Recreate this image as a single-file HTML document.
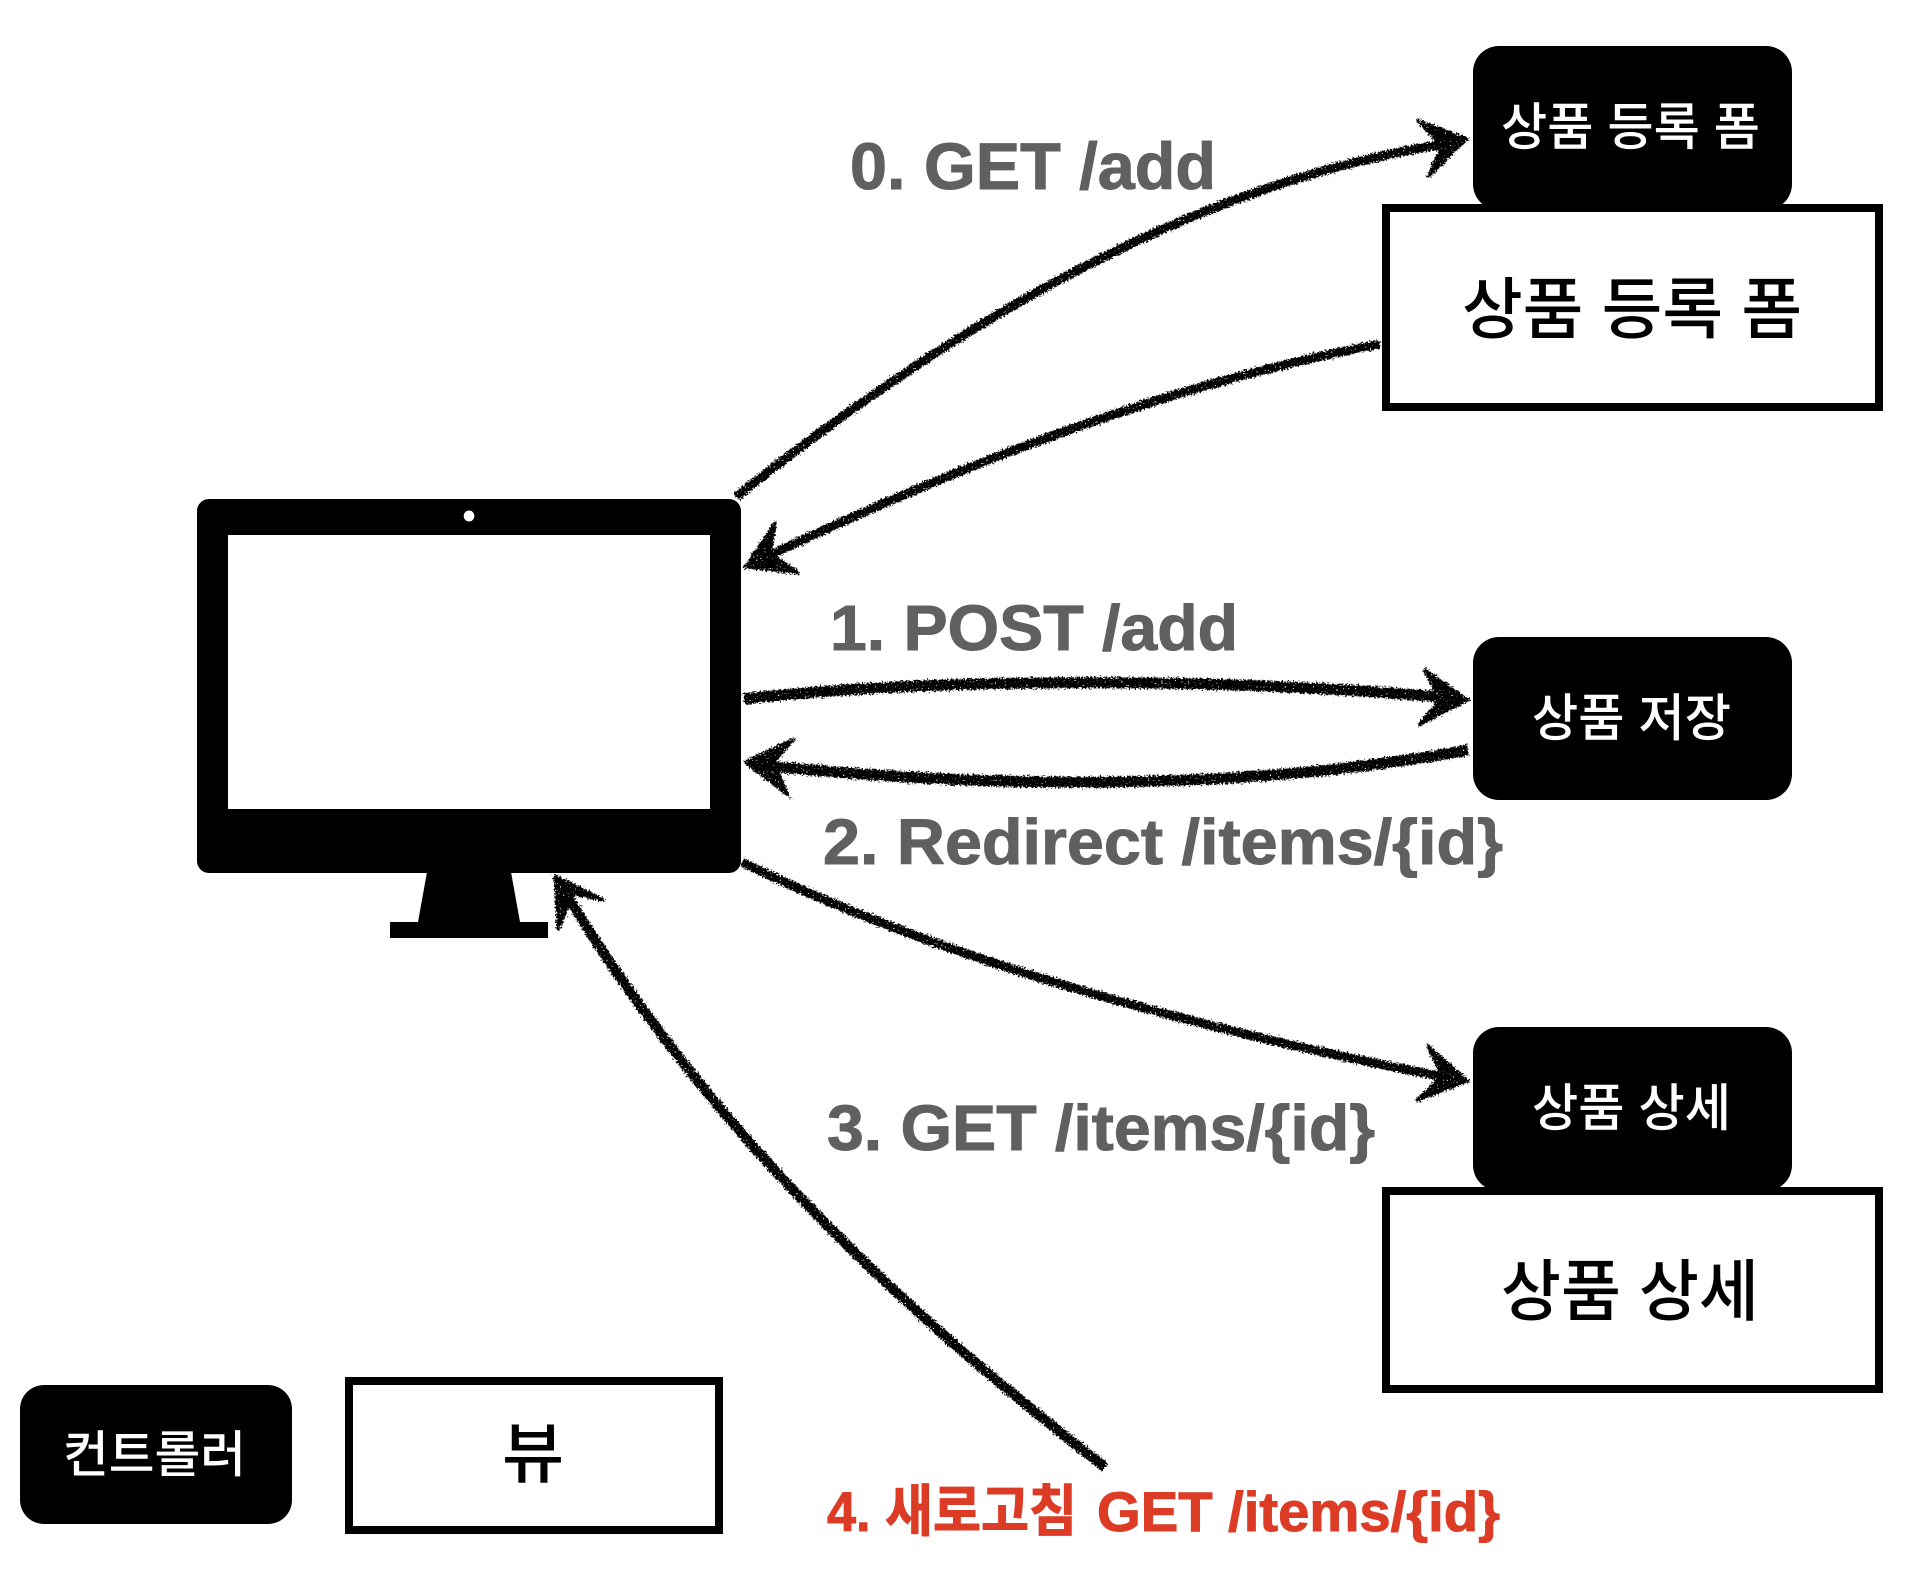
<!DOCTYPE html>
<html lang="ko">
<head>
<meta charset="utf-8">
<title>PRG diagram</title>
<style>
html,body{margin:0;padding:0;background:#fff;width:1928px;height:1596px;overflow:hidden}
svg{display:block}
.lab{font-family:"Liberation Sans","Noto Sans CJK KR",sans-serif;font-weight:700;fill:#606060;stroke:#606060;stroke-width:1}
.red{fill:#dc3c26;stroke:#dc3c26}
.ko{font-family:"Liberation Sans","Noto Sans CJK KR",sans-serif;font-weight:500}
.w{fill:#fff}
.line{fill:none;stroke:#000;stroke-linecap:butt}
.head{fill:#000;stroke:#000;stroke-width:3;stroke-linejoin:miter}
</style>
</head>
<body>
<svg width="1928" height="1596" viewBox="0 0 1928 1596" xmlns="http://www.w3.org/2000/svg">
<defs>
<filter id="rough" x="0" y="0" width="1928" height="1596" filterUnits="userSpaceOnUse" color-interpolation-filters="sRGB">
<feTurbulence type="fractalNoise" baseFrequency="0.55" numOctaves="2" seed="4" result="n"/>
<feDisplacementMap in="SourceGraphic" in2="n" scale="7" xChannelSelector="R" yChannelSelector="G" result="d"/>
<feTurbulence type="fractalNoise" baseFrequency="0.6" numOctaves="1" seed="11" result="n2"/>
<feColorMatrix in="n2" type="matrix" values="0 0 0 0 0  0 0 0 0 0  0 0 0 0 0  14 0 0 0 -9.4" result="sp"/>
<feComposite in="d" in2="sp" operator="out"/>
</filter>
</defs>
<rect width="1928" height="1596" fill="#fff"/>

<!-- monitor -->
<rect x="197" y="499" width="544" height="374" rx="12" fill="#000"/>
<rect x="228" y="535" width="482" height="274" fill="#fff"/>
<ellipse cx="469" cy="516" rx="5.3" ry="5.5" fill="#fff"/>
<polygon points="427,872 511,872 520,922 548,922 548,938 390,938 390,922 418,922" fill="#000"/>

<!-- top group -->
<rect x="1473" y="46" width="319" height="164" rx="26" fill="#000"/>
<rect x="1386" y="208" width="493" height="199" fill="#fff" stroke="#000" stroke-width="8"/>
<text class="ko w" x="1501" y="145" font-size="51" textLength="259" lengthAdjust="spacingAndGlyphs">상품 등록 폼</text>
<text class="ko" x="1462" y="333" font-size="67" textLength="340" lengthAdjust="spacingAndGlyphs">상품 등록 폼</text>

<!-- middle -->
<rect x="1473" y="637" width="319" height="163" rx="26" fill="#000"/>
<text class="ko w" x="1532" y="736" font-size="51" textLength="199" lengthAdjust="spacingAndGlyphs">상품 저장</text>

<!-- lower group -->
<rect x="1473" y="1027" width="319" height="164" rx="26" fill="#000"/>
<rect x="1386" y="1191" width="493" height="198" fill="#fff" stroke="#000" stroke-width="8"/>
<text class="ko w" x="1532" y="1126" font-size="51" textLength="199" lengthAdjust="spacingAndGlyphs">상품 상세</text>
<text class="ko" x="1501" y="1315" font-size="67" textLength="258" lengthAdjust="spacingAndGlyphs">상품 상세</text>

<!-- legend -->
<rect x="20" y="1385" width="272" height="139" rx="24" fill="#000"/>
<text class="ko w" x="63" y="1472" font-size="50" textLength="183" lengthAdjust="spacingAndGlyphs">컨트롤러</text>
<rect x="349" y="1381" width="370" height="149" fill="#fff" stroke="#000" stroke-width="8"/>
<text class="ko" x="502" y="1477" font-size="66" textLength="62" lengthAdjust="spacingAndGlyphs">뷰</text>

<!-- labels -->
<text class="lab" x="850" y="189" font-size="66" textLength="366" lengthAdjust="spacingAndGlyphs">0. GET /add</text>
<text class="lab" x="830" y="650" font-size="64" textLength="408" lengthAdjust="spacingAndGlyphs">1. POST /add</text>
<text class="lab" x="823" y="864" font-size="64" textLength="680" lengthAdjust="spacingAndGlyphs">2. Redirect /items/{id}</text>
<text class="lab" x="827" y="1150" font-size="64" textLength="548" lengthAdjust="spacingAndGlyphs">3. GET /items/{id}</text>
<text class="lab red" x="827" y="1531" font-size="56" textLength="250" lengthAdjust="spacingAndGlyphs">4. 새로고침</text>
<text class="lab red" x="1097" y="1531" font-size="56" textLength="403" lengthAdjust="spacingAndGlyphs">GET /items/{id}</text>

<!-- sketch arrows -->
<g filter="url(#rough)">
<path class="line" stroke-width="9" d="M736 497 C940 335,1180 185,1450 143"/>
<polygon class="head" points="1417,120 1467,139 1428,177 1442,146"/>

<path class="line" stroke-width="9" d="M1380 344 C1190 380,990 450,760 560"/>
<polygon class="head" points="776,522 745,567 799,573 770,553"/>

<path class="line" stroke-width="11" d="M744 699 C900 680,1200 675,1450 698"/>
<polygon class="head" points="1424,669 1468,700 1419,725 1440,700"/>

<path class="line" stroke-width="11" d="M1468 750 C1250 790,1000 790,760 765"/>
<polygon class="head" points="794,739 745,762 788,795 774,762"/>

<path class="line" stroke-width="9" d="M742 862 C920 950,1170 1025,1450 1078"/>
<polygon class="head" points="1427,1045 1468,1081 1416,1101 1442,1076"/>

<path class="line" stroke-width="10" d="M1105 1467 C900 1310,710 1130,570 900"/>
<polygon class="head" points="604,900 555,876 558,930 573,894"/>
</g>
</svg>
</body>
</html>
